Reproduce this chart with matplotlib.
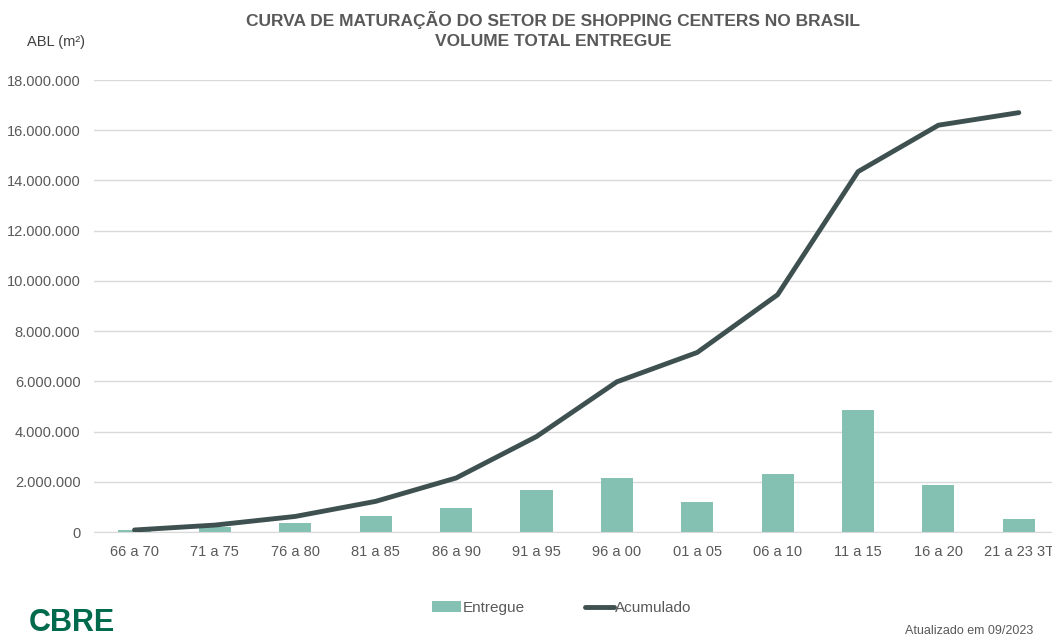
import matplotlib.pyplot as plt
from matplotlib.ticker import FuncFormatter

plt.rcParams['font.family'] = ['Liberation Sans', 'DejaVu Sans']

# Data (m²)
periodos = ["66 a 70", "71 a 75", "76 a 80", "81 a 85", "86 a 90", "91 a 95",
            "96 a 00", "01 a 05", "06 a 10", "11 a 15", "16 a 20", "21 a 23 3T"]
entregue = [80000, 200000, 370000, 640000, 940000, 1670000,
            2150000, 1200000, 2310000, 4870000, 1870000, 520000]
acumulado = [80000, 275000, 620000, 1220000, 2150000, 3800000,
             5980000, 7150000, 9450000, 14350000, 16200000, 16700000]

TEXT = "#595959"
BAR = "#84C1B3"
LINE = "#3E5150"

fig = plt.figure(figsize=(10.52, 6.37), dpi=100)
ax = fig.add_axes([94.3 / 1052, 105 / 637, 964.7 / 1052, 452 / 637])

x = range(len(periodos))
bars = ax.bar(x, entregue, width=0.4, color=BAR, label="Entregue", zorder=2)
line, = ax.plot(x, acumulado, color=LINE, lw=3.5, solid_capstyle="round", label="Acumulado", zorder=3)

ax.set_xlim(-0.5, len(periodos) - 0.5)
ax.set_ylim(0, 18000000)
ax.set_yticks(range(0, 18000001, 2000000))
ax.yaxis.set_major_formatter(FuncFormatter(lambda v, p: f"{int(v):,}".replace(",", ".")))
ax.set_xticks(list(x))
ax.set_xticklabels(periodos)
ax.tick_params(axis="both", length=0, labelsize=10.5, labelcolor=TEXT)
ax.tick_params(axis="x", pad=9)
ax.tick_params(axis="y", pad=10)
ax.grid(axis="y", color="#D9D9D9", lw=1, zorder=0)
for s in ["top", "right", "left"]:
    ax.spines[s].set_visible(False)
ax.spines["bottom"].set_color("#D9D9D9")

fig.text(553 / 1052, 1 - 20 / 637, "CURVA DE MATURAÇÃO DO SETOR DE SHOPPING CENTERS NO BRASIL",
         ha="center", va="center", fontsize=12.5, fontweight="bold", color=TEXT)
fig.text(553 / 1052, 1 - 41 / 637, "VOLUME TOTAL ENTREGUE",
         ha="center", va="center", fontsize=12.5, fontweight="bold", color=TEXT)
fig.text(27 / 1052, 1 - 42 / 637, "ABL (m²)", ha="left", va="center", fontsize=10.5, color="#404040")

fig.legend(handles=[bars, line], labels=["Entregue", "Acumulado"], loc="center",
           bbox_to_anchor=(562 / 1052, 1 - 608 / 637), ncol=2, frameon=False,
           fontsize=11, labelcolor=TEXT, handlelength=1.9, handletextpad=0.1, columnspacing=3.9)

fig.text(29 / 1052, 1 - 623 / 637, "CBRE", ha="left", va="center", fontsize=22,
         fontweight="bold", color="#006A4D")
fig.text(1033 / 1052, 1 - 631 / 637, "Atualizado em 09/2023", ha="right", va="center",
         fontsize=9, color=TEXT)

fig.savefig("out.png", dpi=100)
